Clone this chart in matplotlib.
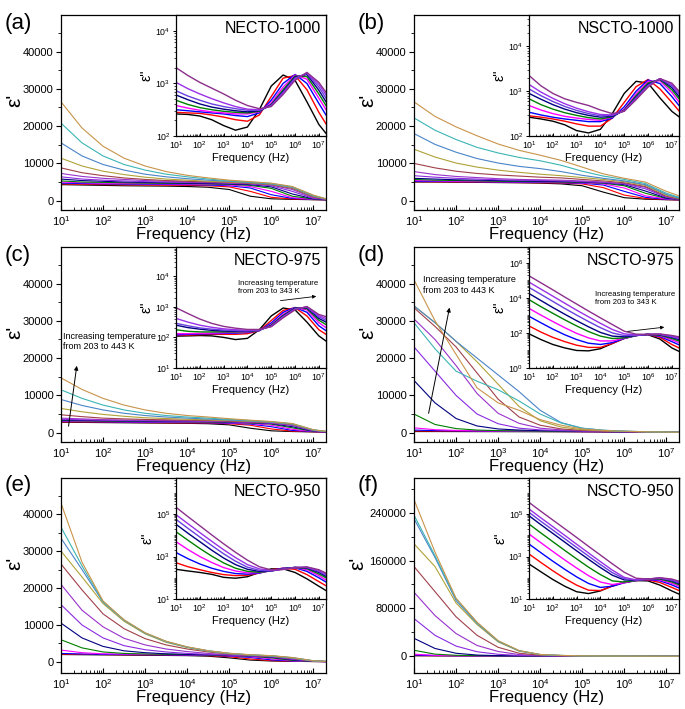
import matplotlib
matplotlib.use('Agg')
import matplotlib.pyplot as plt
from matplotlib.ticker import (FixedLocator, LogLocator, MultipleLocator,
                               LogFormatterSciNotation, NullFormatter, FuncFormatter)

plt.rcParams['font.family'] = ['Liberation Sans', 'DejaVu Sans']
plt.rcParams['mathtext.fontset'] = 'custom'
plt.rcParams['mathtext.rm'] = 'Liberation Sans'
plt.rcParams['mathtext.it'] = 'Liberation Sans:italic'
plt.rcParams['mathtext.bf'] = 'Liberation Sans:bold'

# frequency grid (Hz), half decades
freq = [1e1, 3.16e1, 1e2, 3.16e2, 1e3, 3.16e3, 1e4, 3.16e4, 1e5, 3.16e5,
        1e6, 3.16e6, 1e7, 2e7]

# low T -> high T
main_colors = ['#000000', '#ff0000', '#0000ff', '#ff00ff', '#008000', '#000080',
               '#8a2be2', '#9932cc', '#a0404a', '#b0a238', '#4a84c8', '#3cb4b4',
               '#c8944a']
inset_colors = ['#000000', '#ff0000', '#0000ff', '#ff00ff', '#008000', '#000080',
                '#6a40e0', '#9a30e8', '#8b2f8b']

# ---------- (a) NECTO-1000 ----------
a_main = [
    [4300, 4200, 4100, 4000, 3950, 3900, 3800, 3600, 3000, 1200, 500, 350, 250, 200],
    [4500, 4400, 4300, 4250, 4200, 4150, 4100, 4000, 3700, 2500, 900, 450, 300, 250],
    [4700, 4600, 4500, 4450, 4400, 4350, 4300, 4200, 4000, 3400, 1600, 600, 350, 250],
    [5000, 4800, 4700, 4600, 4550, 4500, 4450, 4400, 4200, 3800, 2500, 800, 400, 300],
    [5300, 5000, 4900, 4800, 4700, 4650, 4600, 4500, 4400, 4100, 3300, 1200, 450, 300],
    [5800, 5400, 5200, 5000, 4900, 4800, 4700, 4600, 4500, 4300, 3700, 1800, 500, 300],
    [6400, 5800, 5500, 5300, 5100, 5000, 4900, 4800, 4700, 4500, 4000, 2500, 600, 350],
    [7300, 6500, 6000, 5700, 5400, 5200, 5100, 5000, 4800, 4600, 4200, 3000, 800, 400],
    [8800, 7500, 6700, 6100, 5700, 5400, 5200, 5000, 4900, 4700, 4300, 3300, 1000, 400],
    [11400, 9300, 7900, 7000, 6300, 5800, 5500, 5200, 5000, 4800, 4400, 3500, 1200, 450],
    [15500, 12000, 9700, 8200, 7100, 6400, 5900, 5500, 5200, 4900, 4500, 3600, 1300, 450],
    [20800, 15500, 12000, 9700, 8200, 7100, 6400, 5800, 5300, 5000, 4600, 3700, 1400, 500],
    [26500, 19500, 14600, 11400, 9300, 7800, 6800, 6100, 5500, 5100, 4700, 3800, 1500, 500],
]
a_inset = [
    [263, 257, 240, 204, 158, 129, 148, 316, 891, 1445, 1148, 447, 166, 112],
    [282, 275, 269, 251, 229, 204, 191, 251, 562, 1259, 1413, 759, 282, 170],
    [316, 302, 288, 275, 263, 245, 234, 275, 479, 1000, 1479, 1000, 417, 251],
    [380, 339, 309, 288, 275, 263, 263, 288, 427, 851, 1445, 1202, 525, 316],
    [479, 398, 347, 316, 295, 282, 275, 295, 398, 759, 1380, 1349, 631, 380],
    [603, 490, 407, 355, 324, 302, 288, 302, 389, 708, 1318, 1479, 741, 447],
    [724, 575, 479, 407, 363, 331, 309, 309, 380, 676, 1259, 1549, 851, 525],
    [1047, 794, 631, 513, 427, 363, 324, 316, 372, 646, 1202, 1585, 955, 603],
    [1995, 1413, 1047, 813, 631, 479, 380, 331, 363, 617, 1148, 1622, 1047, 676],
]

# ---------- (b) NSCTO-1000 ----------
b_main = [
    [5000, 5000, 4950, 4900, 4850, 4800, 4700, 4500, 4000, 2300, 800, 400, 250, 200],
    [5100, 5050, 5000, 4950, 4900, 4850, 4800, 4700, 4500, 3500, 1500, 600, 300, 200],
    [5200, 5150, 5100, 5050, 5000, 4950, 4900, 4800, 4700, 4200, 2500, 900, 350, 250],
    [5400, 5300, 5200, 5150, 5100, 5050, 5000, 4900, 4800, 4500, 3400, 1300, 450, 300],
    [5700, 5500, 5400, 5300, 5200, 5150, 5100, 5000, 4900, 4700, 4000, 2000, 600, 350],
    [6000, 5800, 5600, 5500, 5400, 5300, 5200, 5100, 5000, 4800, 4300, 2600, 700, 400],
    [6700, 6300, 6000, 5800, 5600, 5500, 5400, 5300, 5100, 4900, 4500, 3200, 900, 400],
    [7800, 7000, 6500, 6200, 5900, 5700, 5600, 5500, 5300, 5000, 4600, 3600, 1000, 450],
    [10000, 8800, 7900, 7300, 6900, 6600, 6300, 6100, 5700, 5300, 4800, 3800, 1200, 500],
    [13800, 11700, 10100, 9000, 8200, 7600, 7100, 6700, 6200, 5700, 5100, 4100, 1500, 600],
    [18000, 15100, 13000, 11300, 10100, 9200, 8600, 7800, 6800, 6000, 5300, 4300, 1700, 700],
    [22200, 18900, 16400, 14300, 12800, 11600, 10700, 9500, 7900, 6600, 5700, 4600, 2000, 900],
    [26500, 22600, 19800, 17400, 15200, 13500, 12200, 10800, 9000, 7200, 6000, 5000, 2500, 1300],
]
b_inset = [
    [263, 240, 214, 178, 132, 117, 141, 316, 891, 1660, 1514, 708, 355, 269],
    [282, 263, 240, 214, 186, 166, 166, 251, 562, 1259, 1820, 1122, 562, 363],
    [339, 295, 263, 240, 224, 209, 209, 251, 447, 1000, 1778, 1479, 759, 479],
    [479, 380, 316, 275, 251, 234, 224, 263, 398, 871, 1660, 1698, 933, 575],
    [676, 501, 398, 331, 288, 257, 240, 269, 380, 794, 1514, 1820, 1072, 676],
    [891, 661, 501, 398, 331, 288, 263, 275, 372, 741, 1413, 1862, 1202, 759],
    [1122, 794, 589, 457, 372, 316, 282, 288, 363, 708, 1349, 1905, 1318, 851],
    [1413, 955, 692, 525, 417, 347, 302, 295, 363, 676, 1288, 1905, 1413, 933],
    [2239, 1318, 891, 676, 562, 479, 380, 316, 355, 646, 1230, 1905, 1514, 1000],
]

# ---------- (c) NECTO-975 ----------
c_main = [
    [2800, 2750, 2700, 2650, 2600, 2550, 2500, 2400, 2100, 1200, 500, 300, 200, 150],
    [2900, 2850, 2800, 2750, 2700, 2650, 2600, 2550, 2400, 2000, 1000, 400, 250, 150],
    [3000, 2950, 2900, 2850, 2800, 2750, 2700, 2650, 2550, 2300, 1600, 600, 300, 200],
    [3100, 3050, 3000, 2950, 2900, 2850, 2800, 2750, 2650, 2450, 2000, 900, 350, 200],
    [3250, 3150, 3100, 3050, 3000, 2950, 2900, 2850, 2750, 2600, 2300, 1300, 400, 250],
    [3400, 3300, 3200, 3150, 3100, 3050, 3000, 2950, 2850, 2700, 2450, 1600, 450, 250],
    [3600, 3450, 3350, 3250, 3200, 3150, 3100, 3000, 2900, 2750, 2550, 1900, 500, 250],
    [3900, 3700, 3500, 3400, 3300, 3250, 3200, 3100, 3000, 2850, 2650, 2100, 600, 300],
    [4800, 4300, 3900, 3700, 3550, 3450, 3350, 3250, 3100, 2950, 2750, 2200, 650, 300],
    [6500, 5600, 4900, 4400, 4000, 3800, 3600, 3450, 3250, 3050, 2800, 2300, 700, 300],
    [8900, 7300, 6100, 5200, 4600, 4200, 3900, 3650, 3400, 3150, 2850, 2350, 700, 300],
    [11500, 9200, 7400, 6100, 5200, 4600, 4200, 3900, 3550, 3250, 2900, 2400, 750, 300],
    [14700, 11600, 9200, 7400, 6100, 5200, 4600, 4200, 3750, 3350, 3000, 2450, 800, 350],
]
c_inset = [
    [110, 112, 115, 112, 100, 85, 93, 178, 501, 912, 794, 316, 112, 76],
    [115, 120, 123, 126, 126, 126, 132, 166, 355, 759, 933, 501, 178, 126],
    [120, 126, 129, 132, 135, 138, 145, 166, 295, 661, 955, 661, 240, 166],
    [132, 132, 135, 138, 141, 145, 151, 170, 263, 575, 933, 794, 302, 209],
    [178, 158, 151, 151, 151, 151, 155, 170, 251, 525, 912, 871, 363, 263],
    [251, 209, 186, 170, 162, 158, 158, 174, 240, 501, 891, 933, 417, 316],
    [288, 240, 204, 186, 174, 166, 162, 174, 234, 479, 851, 977, 468, 363],
    [417, 316, 251, 214, 191, 178, 170, 178, 229, 457, 832, 1000, 513, 417],
    [933, 603, 398, 288, 229, 200, 182, 182, 224, 437, 794, 1023, 562, 479],
]

# ---------- (d) NSCTO-975 ----------
d_main = [
    [300, 300, 290, 280, 270, 260, 250, 240, 220, 200, 180, 150, 120, 100],
    [450, 420, 400, 380, 360, 340, 320, 300, 270, 240, 210, 170, 130, 110],
    [700, 550, 480, 440, 410, 380, 350, 320, 290, 260, 220, 180, 140, 110],
    [1300, 800, 600, 500, 450, 410, 380, 350, 310, 270, 230, 190, 140, 110],
    [5000, 2200, 1100, 700, 550, 480, 420, 380, 330, 290, 240, 190, 140, 110],
    [14000, 8000, 3800, 1800, 1000, 700, 550, 450, 380, 310, 250, 200, 150, 110],
    [23000, 16500, 10000, 5000, 2400, 1200, 750, 550, 420, 340, 270, 210, 150, 120],
    [30500, 25000, 18000, 10500, 5200, 2500, 1200, 750, 500, 380, 290, 220, 160, 120],
    [33500, 28500, 23000, 16000, 9000, 4200, 2000, 1000, 600, 420, 310, 230, 160, 120],
    [34000, 29500, 24500, 19000, 13000, 7000, 3200, 1500, 800, 500, 340, 240, 170, 120],
    [34000, 29500, 24500, 20000, 15500, 11000, 6000, 2700, 1200, 650, 400, 260, 180, 130],
    [29500, 22500, 16500, 13800, 11500, 8500, 5000, 2600, 1200, 650, 400, 260, 180, 130],
    [41000, 30000, 21000, 12000, 8000, 6000, 3500, 2000, 1000, 600, 380, 250, 170, 120],
]
d_inset = [
    [89, 42, 22, 14, 10, 9.5, 12.6, 25, 50, 74, 79, 45, 14, 8.9],
    [251, 112, 56, 32, 20, 15, 15, 25, 48, 72, 83, 56, 22, 14],
    [891, 380, 166, 79, 42, 26, 22, 28, 48, 71, 83, 63, 32, 21],
    [2512, 1047, 447, 200, 95, 52, 35, 35, 50, 71, 83, 69, 40, 28],
    [7943, 3162, 1318, 562, 251, 120, 66, 48, 52, 71, 83, 74, 48, 35],
    [17780, 7079, 2818, 1175, 501, 224, 107, 66, 60, 71, 83, 79, 55, 42],
    [39810, 15850, 6310, 2512, 1047, 447, 200, 100, 71, 72, 83, 83, 60, 47],
    [79430, 31620, 12590, 5012, 1995, 832, 355, 158, 89, 76, 83, 85, 66, 52],
    [182000, 72440, 28840, 11220, 4467, 1778, 724, 302, 126, 85, 83, 87, 72, 60],
]

# ---------- (e) NECTO-950 ----------
e_main = [
    [2000, 1950, 1900, 1850, 1800, 1750, 1700, 1550, 1100, 500, 250, 150, 100, 80],
    [2100, 2050, 2000, 1950, 1900, 1850, 1800, 1700, 1400, 800, 350, 180, 110, 80],
    [2300, 2150, 2050, 2000, 1950, 1900, 1850, 1800, 1600, 1200, 550, 230, 120, 90],
    [3200, 2500, 2200, 2100, 2050, 2000, 1950, 1850, 1700, 1400, 850, 300, 130, 90],
    [6000, 3800, 2700, 2300, 2150, 2050, 2000, 1900, 1750, 1550, 1100, 400, 150, 100],
    [10500, 6500, 4200, 3000, 2500, 2200, 2050, 1950, 1800, 1600, 1300, 550, 170, 100],
    [15500, 10000, 6500, 4400, 3300, 2700, 2300, 2050, 1850, 1650, 1400, 700, 200, 100],
    [21000, 14000, 9500, 6400, 4600, 3500, 2800, 2300, 1950, 1700, 1500, 850, 230, 110],
    [26500, 19500, 13000, 9000, 6300, 4600, 3500, 2700, 2150, 1800, 1550, 950, 250, 110],
    [30000, 23000, 15800, 11000, 7600, 5300, 3900, 2900, 2250, 1850, 1600, 1050, 280, 120],
    [33500, 25000, 16200, 11300, 7800, 5500, 4000, 3000, 2300, 1900, 1650, 1100, 300, 120],
    [36500, 26000, 16300, 11300, 7800, 5500, 4000, 3000, 2300, 1900, 1650, 1150, 300, 120],
    [43000, 27000, 16500, 11400, 7900, 5600, 4100, 3050, 2350, 1950, 1700, 1200, 320, 130],
]
e_inset = [
    [251, 209, 178, 145, 105, 95, 112, 178, 263, 263, 178, 89, 40, 25],
    [513, 331, 240, 178, 141, 126, 132, 166, 240, 282, 251, 141, 66, 42],
    [1549, 794, 447, 282, 200, 158, 148, 166, 224, 282, 295, 200, 100, 63],
    [5012, 2138, 1000, 525, 302, 209, 170, 174, 214, 275, 302, 240, 126, 79],
    [14790, 5888, 2399, 1047, 501, 282, 200, 182, 209, 269, 309, 269, 151, 100],
    [33110, 12590, 5012, 1995, 851, 417, 251, 200, 209, 263, 309, 288, 178, 117],
    [56230, 21380, 8318, 3311, 1349, 603, 316, 224, 209, 257, 309, 302, 200, 132],
    [93330, 35480, 13490, 5248, 2089, 891, 417, 263, 219, 251, 302, 316, 219, 148],
    [208900, 75860, 28180, 10470, 3981, 1585, 676, 331, 234, 245, 295, 324, 240, 166],
]

# ---------- (f) NSCTO-950 ----------
f_main = [
    [800, 700, 650, 600, 550, 500, 450, 400, 300, 200, 150, 100, 80, 60],
    [1200, 900, 750, 650, 600, 550, 500, 450, 350, 250, 180, 120, 90, 60],
    [2000, 1100, 850, 700, 620, 570, 520, 470, 380, 280, 200, 130, 90, 60],
    [3500, 1500, 1000, 780, 660, 590, 540, 480, 400, 300, 210, 140, 90, 60],
    [10000, 3500, 1600, 1000, 750, 640, 560, 500, 410, 310, 220, 140, 90, 60],
    [30000, 13000, 5000, 2000, 1000, 780, 620, 530, 430, 320, 230, 150, 90, 60],
    [63000, 35000, 17000, 7500, 3300, 1300, 800, 600, 450, 330, 240, 150, 90, 60],
    [107000, 68000, 38000, 18000, 8000, 2800, 1100, 700, 480, 340, 240, 150, 90, 60],
    [150000, 108000, 66000, 35000, 15000, 5000, 1800, 900, 520, 350, 250, 160, 90, 60],
    [188000, 150000, 89000, 53000, 24000, 8500, 2600, 1200, 600, 370, 260, 160, 90, 60],
    [230000, 165000, 93000, 55000, 25000, 9000, 2800, 1300, 650, 400, 270, 160, 90, 60],
    [236000, 168000, 96000, 56000, 25500, 9200, 2900, 1350, 680, 420, 270, 160, 90, 60],
    [262000, 174000, 97000, 57000, 26000, 9500, 3000, 1400, 700, 430, 280, 170, 90, 60],
]
f_inset = [
    [447, 191, 83, 40, 22, 18, 24, 42, 63, 74, 71, 45, 24, 17],
    [1318, 525, 214, 93, 45, 26, 25, 40, 60, 74, 79, 60, 35, 25],
    [3890, 1514, 603, 251, 110, 54, 35, 40, 58, 74, 83, 72, 46, 33],
    [11480, 4467, 1738, 692, 288, 126, 63, 48, 58, 74, 85, 79, 55, 40],
    [33880, 12880, 5012, 1950, 776, 316, 141, 71, 63, 74, 87, 87, 63, 47],
    [83180, 31620, 12300, 4786, 1862, 741, 302, 132, 79, 76, 87, 93, 71, 52],
    [120200, 45710, 17780, 6918, 2692, 1047, 417, 174, 91, 78, 87, 95, 76, 58],
    [173800, 66070, 25700, 10000, 3802, 1479, 575, 229, 105, 79, 87, 98, 81, 63],
    [354800, 134900, 52480, 20420, 7943, 3020, 1175, 457, 182, 95, 87, 100, 87, 69],
]

panel_labels = ['(a)', '(b)', '(c)', '(d)', '(e)', '(f)']
sample_names = ['NECTO-1000', 'NSCTO-1000', 'NECTO-975', 'NSCTO-975',
                'NECTO-950', 'NSCTO-950']
main_data = [a_main, b_main, c_main, d_main, e_main, f_main]
inset_data = [a_inset, b_inset, c_inset, d_inset, e_inset, f_inset]
main_ylims = [(-2500, 49800), (-2500, 49800), (-2500, 49800), (-2500, 49800),
              (-3000, 49800), (-28000, 298000)]
main_ystep = [10000, 10000, 10000, 10000, 10000, 80000]
inset_ylims = [(100, 2e4), (100, 5e4), (10, 9e4), (1, 8e6), (10, 5e6), (10, 5e6)]
inset_yticks = [[1e2, 1e3, 1e4], [1e2, 1e3, 1e4], [1e1, 1e2, 1e3, 1e4],
                [1e0, 1e2, 1e4, 1e6], [1e1, 1e3, 1e5], [1e1, 1e3, 1e5]]

W, H = 685, 709
fig = plt.figure(figsize=(W / 100, H / 100), dpi=100)


def px_axes(x0, y0, w, h):
    return fig.add_axes([x0 / W, 1 - (y0 + h) / H, w / W, h / H])


col_x = [61, 414]
row_y = [15, 247, 478]
MW, MH = 265, 195
IW, IH = 150, 121

for i in range(6):
    cx = col_x[i % 2]
    ry = row_y[i // 2]

    # main panel: real permittivity
    ax = px_axes(cx, ry, MW, MH)
    for k, curve in enumerate(main_data[i]):
        ax.plot(freq, curve, color=main_colors[k], lw=0.8)
    ax.set_xscale('log')
    ax.set_xlim(10, 2e7)
    ax.set_ylim(*main_ylims[i])
    ax.yaxis.set_major_locator(MultipleLocator(main_ystep[i]))
    ax.yaxis.set_minor_locator(MultipleLocator(main_ystep[i] / 2))
    ax.yaxis.set_major_formatter(FuncFormatter(lambda v, p: f'{int(v)}'))
    ax.xaxis.set_major_locator(LogLocator(base=10, numticks=20))
    ax.xaxis.set_minor_locator(LogLocator(base=10, subs=range(2, 10), numticks=50))
    ax.xaxis.set_minor_formatter(NullFormatter())
    ax.tick_params(which='both', top=False, right=False, labelsize=8)
    ax.tick_params(axis='y', which='both', direction='out', pad=2)
    ax.tick_params(axis='x', which='both', direction='in', pad=3)
    ax.tick_params(which='major', length=3.5, width=0.8)
    ax.tick_params(which='minor', length=2, width=0.6)
    ax.set_xlabel('Frequency (Hz)', fontsize=12, labelpad=-1)
    ax.set_ylabel("ε'", fontsize=15)
    ax.yaxis.set_label_coords(-0.175 if i == 5 else -0.14, 0.56)
    for sp in ax.spines.values():
        sp.set_linewidth(0.9)

    fig.text((5 if i % 2 == 0 else 358) / W, 1 - (ry + 8) / H, panel_labels[i],
             fontsize=16, ha='left', va='center')

    # inset: imaginary permittivity
    axi = px_axes(cx + MW - IW, ry, IW, IH)
    axi.set_facecolor('white')
    for k, curve in enumerate(inset_data[i]):
        axi.plot(freq, curve, color=inset_colors[k], lw=1.0)
    axi.set_xscale('log')
    axi.set_yscale('log')
    axi.set_xlim(10, 2e7)
    axi.set_ylim(*inset_ylims[i])
    axi.yaxis.set_major_locator(FixedLocator(inset_yticks[i]))
    axi.yaxis.set_major_formatter(LogFormatterSciNotation())
    axi.yaxis.set_minor_locator(LogLocator(base=10, subs=range(1, 10), numticks=60))
    axi.yaxis.set_minor_formatter(NullFormatter())
    axi.xaxis.set_major_locator(LogLocator(base=10, numticks=20))
    axi.xaxis.set_minor_locator(LogLocator(base=10, subs=range(2, 10), numticks=50))
    axi.xaxis.set_minor_formatter(NullFormatter())
    axi.tick_params(which='both', top=False, right=False, labelsize=6.3)
    axi.tick_params(axis='y', which='both', direction='out', pad=1.5)
    axi.tick_params(axis='x', which='both', direction='in', pad=2.5)
    axi.tick_params(which='major', length=2.5, width=0.7)
    axi.tick_params(which='minor', length=1.5, width=0.5)
    axi.set_xlabel('Frequency (Hz)', fontsize=8, labelpad=1)
    axi.set_ylabel("ε''", fontsize=10, labelpad=1)
    for sp in axi.spines.values():
        sp.set_linewidth(0.9)
    axi.text(0.965, 0.89, sample_names[i], transform=axi.transAxes,
             ha='right', va='center', fontsize=11.5)

    if i == 2:
        ax.text(0.008, 0.513, 'Increasing temperature\nfrom 203 to 443 K',
                transform=ax.transAxes, fontsize=6.5, ha='left', va='center',
                linespacing=1.15)
        ax.annotate('', xy=(0.061, 0.405), xytext=(0.027, 0.067),
                    xycoords='axes fraction', textcoords='axes fraction',
                    arrowprops=dict(arrowstyle='-|>', color='black', lw=0.7,
                                    mutation_scale=6))
        axi.text(0.416, 0.665, 'Increasing temperature\nfrom 203 to 343 K',
                 transform=axi.transAxes, fontsize=5.6, ha='left', va='center',
                 linespacing=1.15)
        axi.annotate('', xy=(0.953, 0.595), xytext=(0.678, 0.554),
                     xycoords='axes fraction', textcoords='axes fraction',
                     arrowprops=dict(arrowstyle='-|>', color='black', lw=0.6,
                                     mutation_scale=5))
    if i == 3:
        ax.text(0.034, 0.805, 'Increasing temperature\nfrom 203 to 443 K',
                transform=ax.transAxes, fontsize=6.5, ha='left', va='center',
                linespacing=1.15)
        ax.annotate('', xy=(0.136, 0.703), xytext=(0.053, 0.133),
                    xycoords='axes fraction', textcoords='axes fraction',
                    arrowprops=dict(arrowstyle='-|>', color='black', lw=0.7,
                                    mutation_scale=6))
        axi.text(0.44, 0.574, 'Increasing temperature\nfrom 203 to 343 K',
                 transform=axi.transAxes, fontsize=5.6, ha='left', va='center',
                 linespacing=1.15)
        axi.annotate('', xy=(0.92, 0.34), xytext=(0.64, 0.30),
                     xycoords='axes fraction', textcoords='axes fraction',
                     arrowprops=dict(arrowstyle='-|>', color='black', lw=0.6,
                                     mutation_scale=5))

fig.savefig('out.png', dpi=100)
